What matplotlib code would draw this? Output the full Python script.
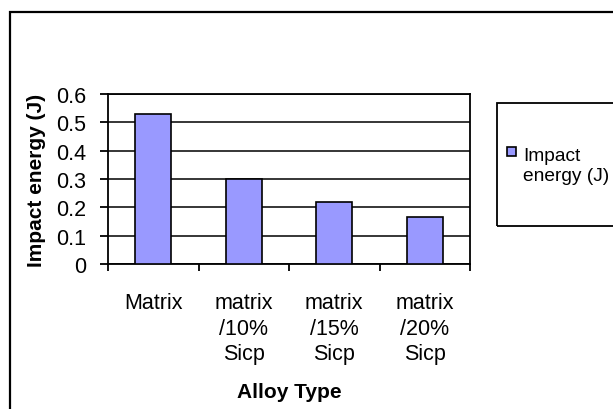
import matplotlib
matplotlib.use("Agg")
import matplotlib.pyplot as plt
from matplotlib.patches import Rectangle

categories = ["Matrix", "matrix\n/10%\nSicp", "matrix\n/15%\nSicp", "matrix\n/20%\nSicp"]
values = [0.53, 0.30, 0.22, 0.165]
series_name = "Impact\nenergy (J)"
yticks = [0, 0.1, 0.2, 0.3, 0.4, 0.5, 0.6]
ytick_labels = ["0", "0.1", "0.2", "0.3", "0.4", "0.5", "0.6"]

plt.rcParams['font.family'] = ['Liberation Sans', 'DejaVu Sans']

W, H = 613, 410
fig = plt.figure(figsize=(W / 100, H / 100), dpi=100)

# outer chart frame (extends beyond right and bottom edge)
fig.add_artist(Rectangle((10 / W, -0.05), 1.2, 1 - 13 / H + 0.05, transform=fig.transFigure,
                         fill=False, edgecolor='black', linewidth=1.6))

ax = fig.add_axes([108 / W, 1 - 265 / H, (470 - 108) / W, (265 - 95) / H])
x = list(range(len(categories)))
ax.bar(x, values, width=0.4, color='#9999FF', edgecolor='black', linewidth=1.2, zorder=3)
ax.set_xlim(-0.5, len(categories) - 0.5)
ax.set_ylim(0, 0.6)
ax.set_yticks(yticks)
ax.set_yticklabels(ytick_labels, fontsize=15.5)
ax.yaxis.grid(True, color='black', linewidth=1.1, zorder=0)
ax.set_axisbelow(True)

ax.set_xticks(x)
ax.set_xticklabels(categories, fontsize=15.5, linespacing=1.3)
ax.tick_params(axis='x', length=0, pad=20)
ax.set_xticks([i - 0.5 for i in range(len(categories) + 1)], minor=True)
ax.tick_params(axis='x', which='minor', length=5, width=1.3, direction='out')
ax.tick_params(axis='y', length=6, width=1.3, direction='out', pad=10)

for s in ['left', 'bottom', 'right', 'top']:
    ax.spines[s].set_linewidth(1.3)

ax.set_ylabel("Impact energy (J)", fontsize=15, fontweight='bold', labelpad=7)
ax.set_xlabel("Alloy Type", fontsize=15, fontweight='bold', labelpad=13)

# legend (manual, box extends past right edge)
fig.add_artist(Rectangle((497 / W, 1 - 227 / H), 0.3, (227 - 104) / H, transform=fig.transFigure,
                         fill=False, edgecolor='black', linewidth=1.3))
fig.add_artist(Rectangle((507 / W, 1 - 157 / H), 9 / W, 9 / H, transform=fig.transFigure,
                         facecolor='#9999FF', edgecolor='black', linewidth=1.2))
fig.text(523 / W, 1 - 148 / H, series_name, fontsize=13.8, va='top', ha='left', linespacing=1.25)

fig.savefig("out.png", dpi=100)
